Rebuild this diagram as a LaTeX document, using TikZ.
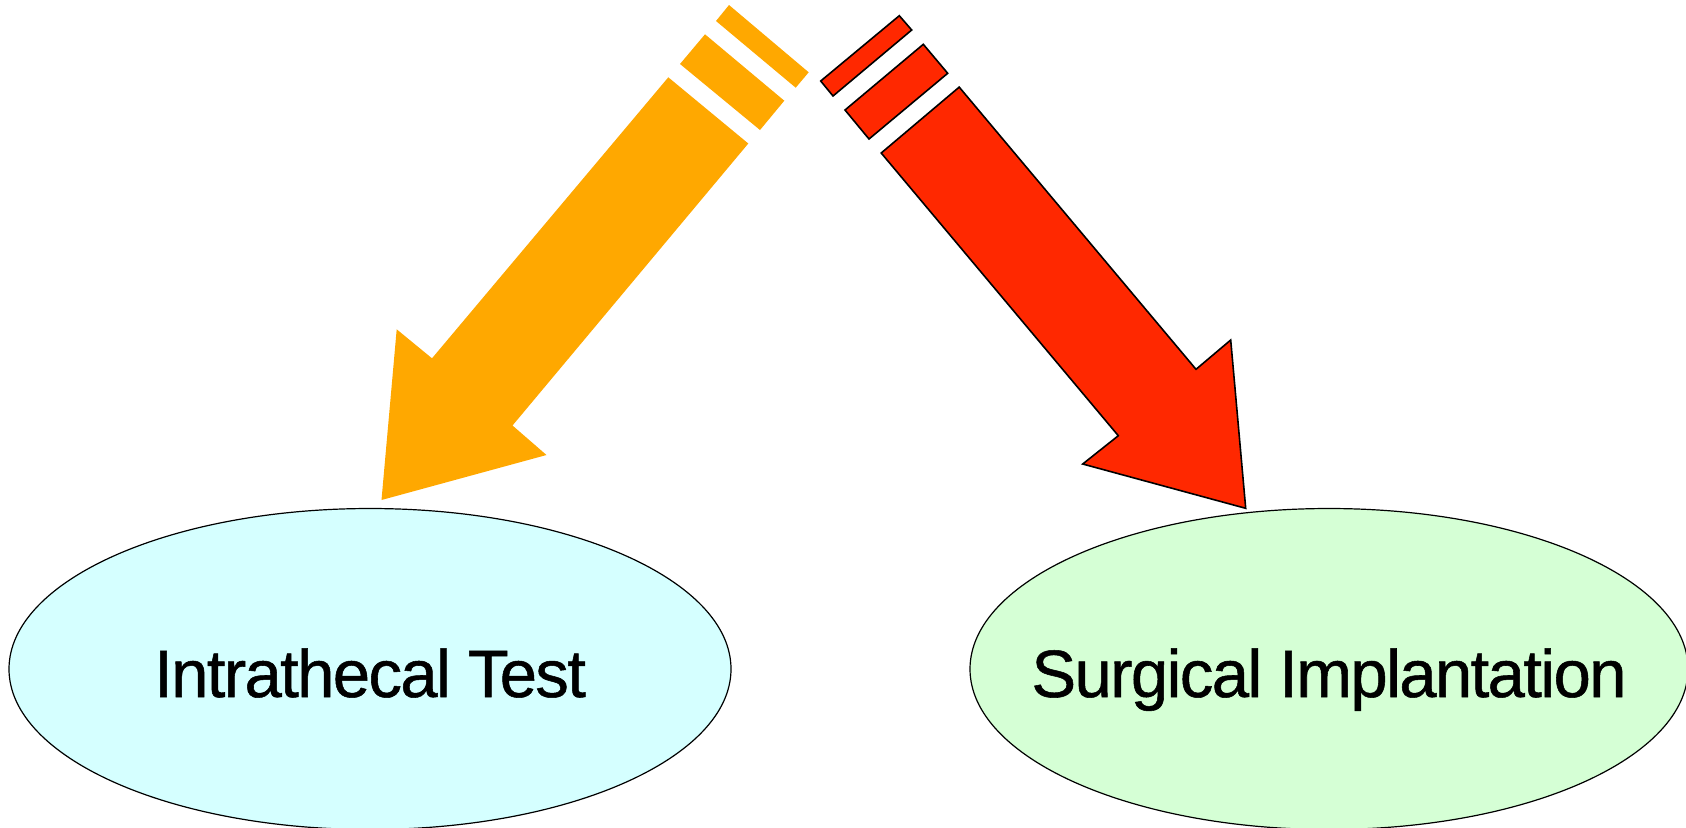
\documentclass[tikz,border=0pt]{standalone}
\usepackage{fontspec}
\setmainfont{Liberation Sans}
\newfontfamily\stagefont[FakeBold=0.8, LetterSpace=-2.4]{Liberation Sans}
\usepackage{xcolor}
\usepackage{tikz}
\usetikzlibrary{shapes.geometric}

\definecolor{arroworange}{RGB}{255,168,0}
\definecolor{arrowred}{RGB}{255,40,0}
\definecolor{testcyan}{RGB}{213,255,255}
\definecolor{implantgreen}{RGB}{213,255,213}

\tikzset{
	stage/.style={ellipse, draw=black, line width=0.6pt, inner sep=0pt},
	stagetext/.style={anchor=base, inner sep=0pt,
		font=\stagefont\fontsize{33.5}{38}\selectfont},
	orangepart/.style={fill=arroworange},
	redpart/.style={fill=arrowred, draw=black, line width=0.8pt, line join=miter},
}

\begin{document}
\begin{tikzpicture}[x=0.5pt, y=-0.5pt]
	\useasboundingbox (0, 0) rectangle (1686, 827);
	% Ellipses:
	\node[stage, fill=testcyan, minimum width=361pt, minimum height=160.5pt](test) at (370, 669){};
	\node[stage, fill=implantgreen, minimum width=359pt, minimum height=160.5pt](implant) at (1329, 669){};
	\node[stagetext](testtext) at ([yshift=-14pt]test.center){Intrathecal Test};
	\node[stagetext](implanttext) at ([yshift=-14pt]implant.center){Surgical Implantation};
	% Orange arrow with its stripes:
	\fill[orangepart] (729, 5) -- (808.7, 72.3) -- (795.7, 87.7) -- (716, 21) -- cycle;
	\fill[orangepart] (705, 34.3) -- (784.3, 100.7) -- (760, 130) -- (680, 64) -- cycle;
	\fill[orangepart] (668.3, 77.3) -- (748.3, 143.5) -- (512.5, 425.5) -- (546.5, 455)
		-- (381.5, 500) -- (396.7, 329.3) -- (432, 358.3) -- cycle;
	% Red arrow with its stripes:
	\filldraw[redpart] (820.7, 81) -- (899.3, 15.7) -- (911.7, 30) -- (833, 96) -- cycle;
	\filldraw[redpart] (845, 110) -- (923.3, 44.3) -- (947.7, 73.3) -- (869, 139) -- cycle;
	\filldraw[redpart] (881.2, 153) -- (959.2, 87.1) -- (1196, 369.3) -- (1230.7, 340)
		-- (1245.7, 508.3) -- (1082.7, 464) -- (1118.3, 435.7) -- cycle;
\end{tikzpicture}
\end{document}
